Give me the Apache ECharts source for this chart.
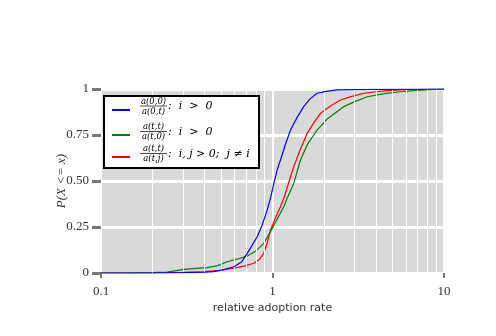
<!DOCTYPE html>
<html><head><meta charset="utf-8">
<script src="https://cdn.jsdelivr.net/npm/echarts@6/dist/echarts.min.js"></script>
<style>html,body{margin:0;padding:0;background:#fff}#c{width:496px;height:336px}</style>
</head><body><div id="c"></div>
<script>
const blueX = [0.1,0.2,0.3,0.4,0.455,0.52,0.595,0.66,0.712,0.76,0.814,0.87,0.931,0.973,1.02,1.065,1.113,1.19,1.274,1.4,1.52,1.65,1.82,2.1,2.38,3.0,4.26,10];
const blueY = [0,0,0.002,0.004,0.007,0.018,0.034,0.06,0.107,0.15,0.197,0.26,0.342,0.406,0.49,0.56,0.614,0.70,0.777,0.85,0.904,0.945,0.977,0.988,0.995,0.997,0.998,1];
const greenX = [0.1,0.15,0.2,0.243,0.27,0.304,0.36,0.416,0.48,0.544,0.62,0.712,0.8,0.89,0.973,1.06,1.164,1.218,1.33,1.456,1.6,1.82,2.1,2.6,3.0,3.57,4.5,5.57,7,10];
const greenY = [0,0.001,0.002,0.005,0.012,0.02,0.025,0.029,0.04,0.061,0.075,0.092,0.12,0.161,0.225,0.29,0.36,0.406,0.487,0.614,0.70,0.777,0.84,0.904,0.93,0.958,0.975,0.985,0.993,1];
const redX = [0.1,0.2,0.3,0.4,0.5,0.595,0.7,0.778,0.84,0.89,0.93,0.973,1.04,1.113,1.164,1.274,1.33,1.45,1.594,1.75,1.906,2.2,2.49,2.9,3.41,4.3,5.57,7.5,10];
const redY = [0,0,0.003,0.008,0.015,0.026,0.04,0.053,0.075,0.107,0.16,0.234,0.3,0.36,0.406,0.523,0.578,0.67,0.759,0.82,0.868,0.91,0.94,0.96,0.977,0.988,0.995,0.998,1];
const minorX = [0.2,0.3,0.4,0.5,0.6,0.7,0.8,0.9,2,3,4,5,6,7,8,9];
const yTicks = [0,0.25,0.5,0.75,1];
const yTickLabels = ['0','0.25','0.50','0.75','1'];

const zip = (xs, ys) => xs.map((x,i)=>[x, ys[i]]);
const chart = echarts.init(document.getElementById('c'));
const serif = 'DejaVu Serif';
const legendRows = [
  {color:'#0000ff', num:'a(0,0)', den:'a(0,t)', tail:':  i  >  0', line:110, bar:106},
  {color:'#008000', num:'a(t,t)', den:'a(t,0)', tail:':  i  >  0', line:135, bar:131.5},
  {color:'#ff0000', num:'a(t,t)', den:'a(t,j)', tail:':  i, j > 0;  j \u2260 i', line:157, bar:153.5}
];
const g = [{type:'rect', shape:{x:104,y:96,width:155,height:72}, style:{fill:'#fff', stroke:'#000', lineWidth:2}, z:100}];
legendRows.forEach(r=>{
  g.push({type:'line', shape:{x1:112,y1:r.line,x2:130,y2:r.line}, style:{stroke:r.color, lineWidth:2}, z:101});
  g.push({type:'line', shape:{x1:140,y1:r.bar,x2:167,y2:r.bar}, style:{stroke:'#000', lineWidth:0.7}, z:101});
  g.push({type:'text', x:153.5, y:r.bar, style:{text:r.num, font:'italic 8.5px '+serif, fill:'#000', align:'center', verticalAlign:'bottom'}, z:101});
  g.push({type:'text', x:153.5, y:r.bar+1, style:{text:r.den, font:'italic 8.5px '+serif, fill:'#000', align:'center', verticalAlign:'top'}, z:101});
  g.push({type:'text', x:168, y:r.bar+0.5, style:{text:r.tail, font:'italic 11px '+serif, fill:'#000', align:'left', verticalAlign:'middle'}, z:101});
});

chart.setOption({
  animation:false,
  grid:{left:101, right:52, top:89, bottom:63, show:true, backgroundColor:'#d9d9d9', borderWidth:0},
  xAxis:{type:'log', logBase:10, min:0.1, max:10,
    name:'relative adoption rate', nameLocation:'middle', nameGap:30,
    nameTextStyle:{fontFamily:'DejaVu Sans', fontSize:11, color:'#333'},
    axisLine:{show:false},
    axisTick:{show:true, length:5, lineStyle:{color:'#777', width:2}},
    axisLabel:{fontFamily:'Liberation Serif', fontSize:13, color:'#333', margin:12, formatter:v=> v<1? '0.1' : String(Math.round(v))},
    splitLine:{show:true, lineStyle:{color:'#fff', width:2}},
    minorTick:{show:false}, minorSplitLine:{show:false}
  },
  yAxis:{type:'value', min:0, max:1, interval:0.25,
    name:'P(X <= x)', nameLocation:'middle', nameGap:33, nameRotate:90, nameMoveOverlap:false,
    nameTextStyle:{fontFamily:'Liberation Serif', fontStyle:'italic', fontSize:13, color:'#333'},
    axisLine:{show:false},
    axisTick:{show:true, length:9, lineStyle:{color:'#777', width:3}},
    axisLabel:{fontFamily:'Liberation Serif', fontSize:13, color:'#333', margin:12, formatter:v=>{const i=yTicks.indexOf(v); return i>=0?yTickLabels[i]:'';}},
    splitLine:{show:true, lineStyle:{color:'#fff', width:3}}
  },
  graphic:g,
  series:[
    {type:'line', data:[], z:1, silent:true,
      markLine:{silent:true, symbol:'none', label:{show:false}, lineStyle:{color:'#fff', width:1, type:'solid'},
        data: minorX.map(v=>({xAxis:v}))}},
    {type:'line', data:zip(redX,redY), showSymbol:false, lineStyle:{color:'#ff0000', width:1.2}, itemStyle:{color:'#ff0000'}, z:3},
    {type:'line', data:zip(greenX,greenY), showSymbol:false, lineStyle:{color:'#008000', width:1.2}, itemStyle:{color:'#008000'}, z:4},
    {type:'line', data:zip(blueX,blueY), showSymbol:false, lineStyle:{color:'#0000ff', width:1.2}, itemStyle:{color:'#0000ff'}, z:5}
  ]
});
</script></body></html>
